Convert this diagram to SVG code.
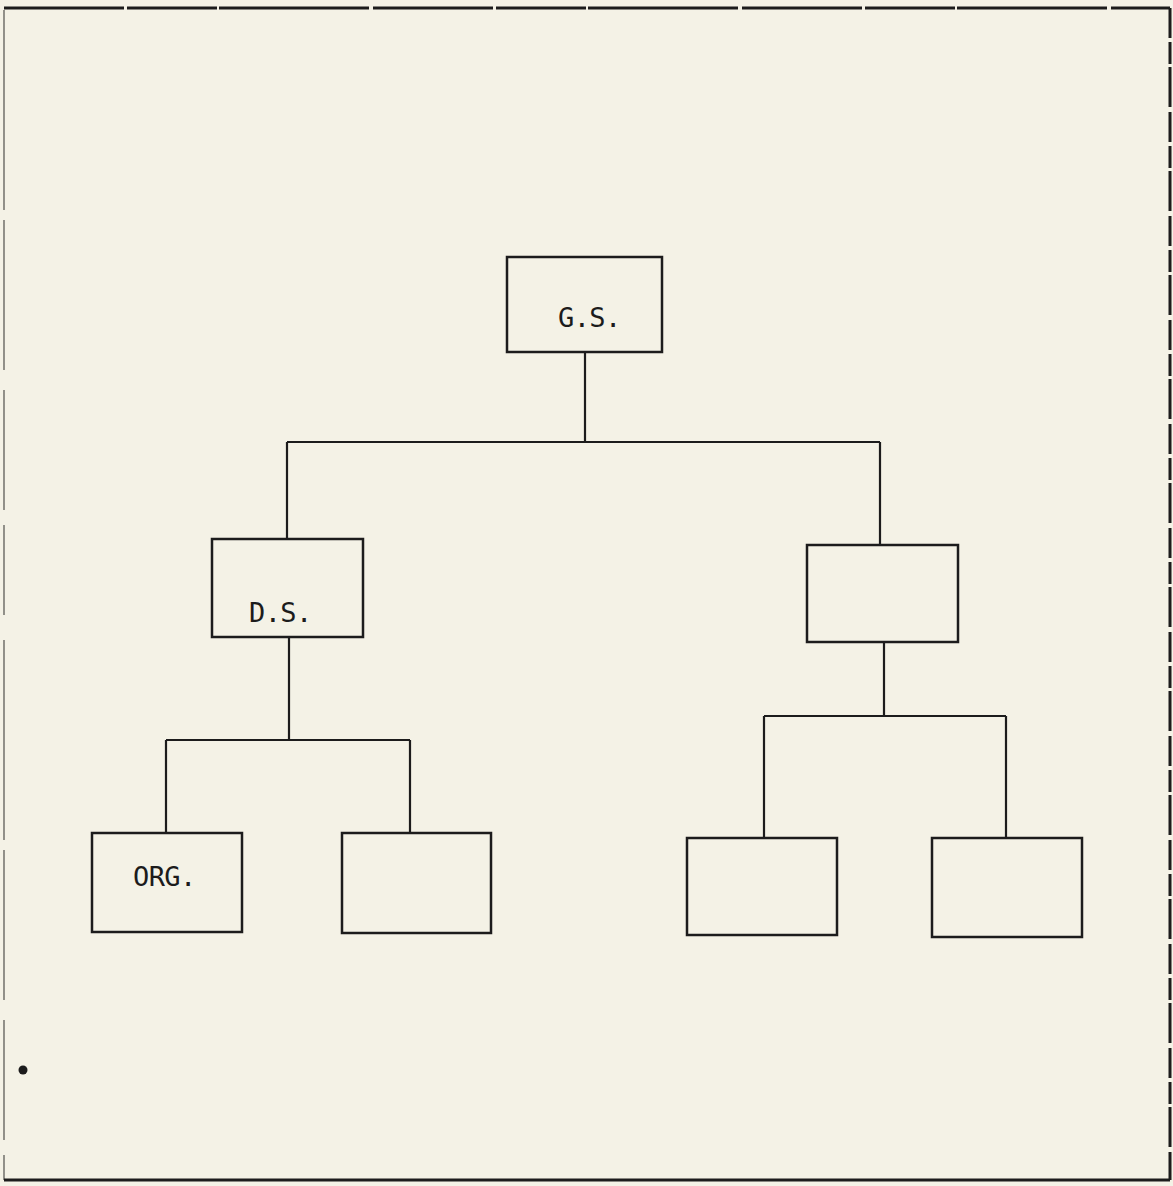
<svg xmlns="http://www.w3.org/2000/svg" width="1173" height="1186" viewBox="0 0 1173 1186">
<style>
.box{fill:none;stroke:#1c1c1c;stroke-width:2.5}
.ln{fill:none;stroke:#1c1c1c;stroke-width:2.2}
.lbl{font-family:"DejaVu Sans Mono","Liberation Mono",monospace;font-size:27px;letter-spacing:-0.6px;fill:#1c1c1c}
.frame{fill:none;stroke:#1c1c1c}
</style>
<rect width="1173" height="1186" fill="#f4f2e6"/>
<g id="frame">
<path class="frame" stroke-width="3" d="M4 8 H1170" stroke-dasharray="120 3 90 2 150 4"/>
<path class="frame" stroke-width="3" d="M1170 8 V1180" stroke-dasharray="30 4 22 3 40 5"/>
<path class="frame" stroke-width="1.3" stroke-opacity="0.7" d="M4 10 V1180" stroke-dasharray="200 10 150 20 120 15 90 25"/>
<path class="frame" stroke-width="3" d="M4 1180 H1170"/>
<circle cx="23" cy="1070" r="4.5" fill="#1c1c1c"/>
</g>
<g id="connectors">
<path class="ln" d="M585 352 V442 M287 442 H880 M287 442 V539 M880 442 V545"/>
<path class="ln" d="M289 637 V740 M166 740 H410 M166 740 V833 M410 740 V833"/>
<path class="ln" d="M884 642 V716 M764 716 H1006 M764 716 V838 M1006 716 V838"/>
</g>
<g id="gs"><rect class="box" x="507" y="257" width="155" height="95"/><text class="lbl" x="558" y="327">G.S.</text></g>
<g id="ds"><rect class="box" x="212" y="539" width="151" height="98"/><text class="lbl" x="249" y="622">D.S.</text></g>
<g id="right-mid"><rect class="box" x="807" y="545" width="151" height="97"/></g>
<g id="org"><rect class="box" x="92" y="833" width="150" height="99"/><text class="lbl" x="133" y="886">ORG.</text></g>
<g id="bottom2"><rect class="box" x="342" y="833" width="149" height="100"/></g>
<g id="bottom3"><rect class="box" x="687" y="838" width="150" height="97"/></g>
<g id="bottom4"><rect class="box" x="932" y="838" width="150" height="99"/></g>
</svg>
